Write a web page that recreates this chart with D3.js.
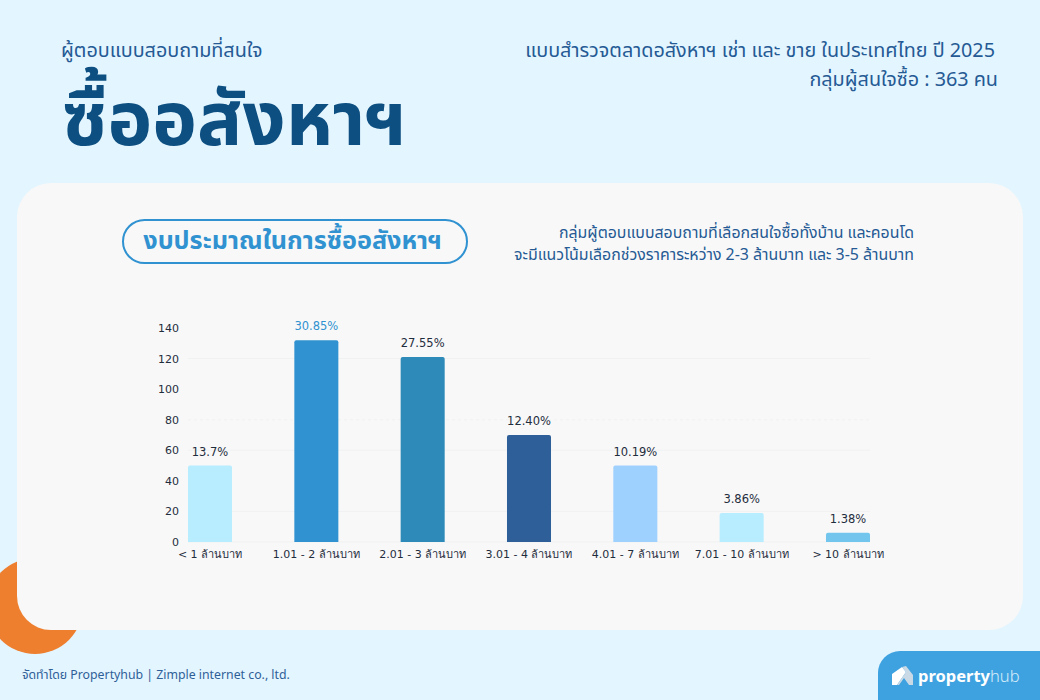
<!DOCTYPE html>
<html>
<head>
  <meta charset="UTF-8">
  <title>ซื้ออสังหาฯ</title>
  <script src="https://d3js.org/d3.v7.min.js"></script>
  <style>
    html, body { margin: 0; padding: 0; background: #e3f5ff; }
    svg { display: block; }
    text { font-family: "Noto Sans", "Noto Sans Thai", sans-serif; }
    .axis text { font-family: "DejaVu Sans", "Noto Sans", sans-serif; font-size: 11px; fill: #1f2d3d; }
    .axis path, .axis line { display: none; }
    .value-label { font-family: "DejaVu Sans", "Noto Sans", sans-serif; font-size: 11.5px; fill: #1f2d3d; text-anchor: middle; }
    .grid-line { stroke: #f0f1f2; stroke-width: 1; }
  </style>
</head>
<body>
  <svg width="1040" height="700"></svg>

  <script>
    const categories = ["< 1 ล้านบาท", "1.01 - 2 ล้านบาท", "2.01 - 3 ล้านบาท", "3.01 - 4 ล้านบาท", "4.01 - 7 ล้านบาท", "7.01 - 10 ล้านบาท", "> 10 ล้านบาท"];
    const values = [50, 132, 121, 70, 50, 19, 6];
    const percentLabels = ["13.7%", "30.85%", "27.55%", "12.40%", "10.19%", "3.86%", "1.38%"];
    const barColors = ["#b8ecff", "#3092d0", "#2e8ab8", "#2f5f98", "#9fd1ff", "#b8ecff", "#72c6ee"];
    const yTicks = [0, 20, 40, 60, 80, 100, 120, 140];
    const gridTicks = [0, 20, 60, 80, 120];

    const svg = d3.select("svg");

    // page furniture
    svg.append("circle").attr("cx", 35).attr("cy", 606).attr("r", 48).attr("fill", "#ee7f2f");
    svg.append("rect").attr("x", 17).attr("y", 183).attr("width", 1006).attr("height", 447)
      .attr("rx", 34).attr("fill", "#f8f8f8");

    const addText = (x, y, txt, size, color, anchor, weight) => svg.append("text")
      .attr("x", x).attr("y", y).text(txt)
      .attr("font-size", size).attr("fill", color)
      .attr("text-anchor", anchor || "start")
      .attr("font-weight", weight || 400);

    addText(61, 57, "ผู้ตอบแบบสอบถามที่สนใจ", 19.8, "#255a94");
    addText(62, 145, "ซื้ออสังหาฯ", 75.5, "#0d4f80", "start", 700);
    addText(995, 57, "แบบสำรวจตลาดอสังหาฯ เช่า และ ขาย ในประเทศไทย ปี 2025", 19.8, "#255a94", "end");
    addText(998, 86, "กลุ่มผู้สนใจซื้อ : 363 คน", 19.8, "#255a94", "end");

    svg.append("rect").attr("x", 123).attr("y", 220).attr("width", 344).attr("height", 43)
      .attr("rx", 21.5).attr("fill", "none").attr("stroke", "#3092d0").attr("stroke-width", 2);
    addText(292.5, 249, "งบประมาณในการซื้ออสังหาฯ", 25.2, "#3092d0", "middle", 700);

    addText(914, 238, "กลุ่มผู้ตอบแบบสอบถามที่เลือกสนใจซื้อทั้งบ้าน และคอนโด", 15.9, "#255a94", "end");
    addText(914, 260, "จะมีแนวโน้มเลือกช่วงราคาระหว่าง 2-3 ล้านบาท และ 3-5 ล้านบาท", 15.9, "#255a94", "end");

    addText(22, 679, "จัดทำโดย Propertyhub | Zimple internet co., ltd.", 12.3, "#2f5f98");

    // logo badge
    svg.append("path").attr("d", "M1040,651 H900 A22,22 0 0 0 878,673 V700 H1040 Z").attr("fill", "#3fa2e0");
    svg.append("path").attr("d", "M892,674 L902,667 L906,672 L897,685 H892 Z").attr("fill", "#ffffff");
    svg.append("path").attr("d", "M902,667 L906,666 L913,675 V685 H909 L904,678 L899,685 H897 L906,672 Z").attr("fill", "#c9d9e6");
    const logo = addText(918, 682, "property", 16.5, "#ffffff", "start", 700);
    logo.append("tspan").text("hub").attr("font-weight", 300).attr("fill", "#d6ecfa");

    // chart
    const margin = { top: 328, left: 188 };
    const width = 682;
    const height = 214;
    const g = svg.append("g").attr("transform", `translate(${margin.left},${margin.top})`);

    const xScale = d3.scaleBand()
      .domain(categories)
      .range([0, width])
      .paddingInner(0.586)
      .paddingOuter(0);

    const yScale = d3.scaleLinear()
      .domain([0, 140])
      .range([height, 0]);

    g.selectAll(".grid-line")
      .data(gridTicks)
      .enter()
      .append("line")
      .attr("class", "grid-line")
      .attr("x1", 0)
      .attr("x2", width)
      .attr("y1", d => yScale(d))
      .attr("y2", d => yScale(d))
      .attr("stroke-dasharray", d => d === 80 ? "3 3" : null);

    g.append("g")
      .attr("class", "axis")
      .attr("transform", `translate(0,${height})`)
      .call(d3.axisBottom(xScale).tickSize(0).tickPadding(8));

    g.append("g")
      .attr("class", "axis")
      .call(d3.axisLeft(yScale).tickValues(yTicks).tickSize(0).tickPadding(9));

    g.selectAll(".bar")
      .data(values)
      .enter()
      .append("path")
      .attr("class", "bar")
      .attr("fill", (d, i) => barColors[i])
      .attr("d", (d, i) => {
        const x0 = xScale(categories[i]);
        const x1 = x0 + xScale.bandwidth();
        const y0 = yScale(d);
        const r = 2;
        return `M${x0},${height} V${y0 + r} Q${x0},${y0} ${x0 + r},${y0} H${x1 - r} Q${x1},${y0} ${x1},${y0 + r} V${height} Z`;
      });

    g.selectAll(".value-label")
      .data(values)
      .enter()
      .append("text")
      .attr("class", "value-label")
      .attr("x", (d, i) => xScale(categories[i]) + xScale.bandwidth() / 2)
      .attr("y", d => yScale(d) - 10)
      .style("fill", (d, i) => i === 1 ? "#3092d0" : null)
      .text((d, i) => percentLabels[i]);
  </script>
</body>
</html>
